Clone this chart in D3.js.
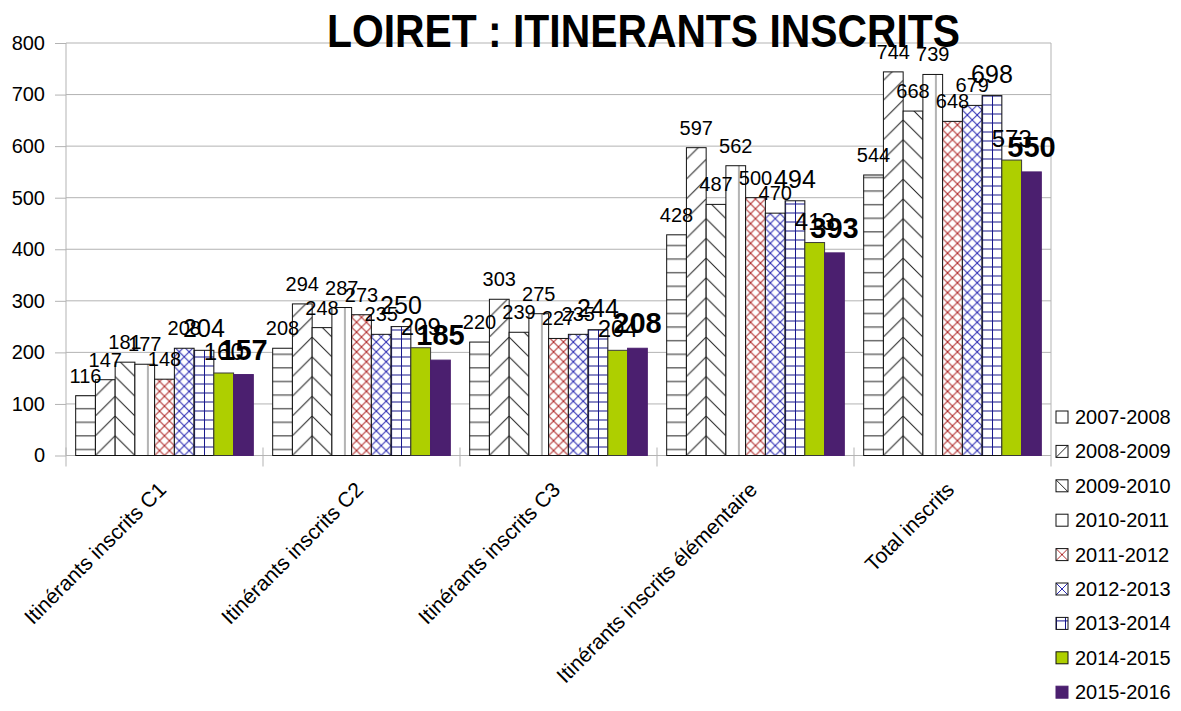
<!DOCTYPE html>
<html>
<head>
<meta charset="utf-8">
<script src="https://cdn.jsdelivr.net/npm/d3@7"></script>
<style>
  body { margin: 0; background: #fff; }
  text { font-family: "Liberation Sans", Arial, sans-serif; }
</style>
</head>
<body>
<div id="chart"></div>
<script>
// categories and yearly series
const categories = ["Itinérants inscrits C1", "Itinérants inscrits C2", "Itinérants inscrits C3", "Itinérants inscrits élémentaire", "Total inscrits"];
const years = ["2007-2008", "2008-2009", "2009-2010", "2010-2011", "2011-2012", "2012-2013", "2013-2014", "2014-2015", "2015-2016"];

const v2007 = [116, 208, 220, 428, 544];
const v2008 = [147, 294, 303, 597, 744];
const v2009 = [181, 248, 239, 487, 668];
const v2010 = [177, 287, 275, 562, 739];
const v2011 = [148, 273, 227, 500, 648];
const v2012 = [208, 235, 235, 470, 679];
const v2013 = [204, 250, 244, 494, 698];
const v2014 = [160, 209, 204, 413, 573];
const v2015 = [157, 185, 208, 393, 550];
const seriesValues = [v2007, v2008, v2009, v2010, v2011, v2012, v2013, v2014, v2015];

const yTicks = [0, 100, 200, 300, 400, 500, 600, 700, 800];
const titleText = "LOIRET : ITINERANTS INSCRITS";

// fill style per series (hatch kind + colour), label font
const seriesStyle = [
  { kind: "hlines", color: "#222", font: 20 },
  { kind: "slash", color: "#222", font: 20 },
  { kind: "backslash", color: "#222", font: 20 },
  { kind: "vline", color: "#666", font: 20 },
  { kind: "cross", color: "#b02a2a", font: 20 },
  { kind: "cross", color: "#2b2bb3", font: 20 },
  { kind: "grid", color: "#14148a", font: 25 },
  { kind: "solid", color: "#aecf00", font: 24 },
  { kind: "solid", color: "#4b1f6f", font: 29, bold: true }
];

const W = 1181, H = 711;
const plot = { left: 66, right: 1051, top: 43, bottom: 455.5 };

const svg = d3.select("#chart").append("svg")
  .attr("width", W).attr("height", H);
const defs = svg.append("defs");

const x0 = d3.scaleBand().domain(categories).range([plot.left, plot.right]).padding(0);
const x1 = d3.scaleBand().domain(years).range([0, x0.bandwidth()]).paddingInner(0).paddingOuter(0.49);
const y = d3.scaleLinear().domain([0, 800]).range([plot.bottom, plot.top]);
const bw = x1.bandwidth();

// builds a hatch pattern anchored at (px, py)
function addPattern(id, style, px, py, size, kind) {
  kind = kind || style.kind;
  const p = defs.append("pattern").attr("id", id)
    .attr("patternUnits", "userSpaceOnUse")
    .attr("x", px).attr("y", py);
  let w, h;
  const ln = (a, b, c, d) => p.append("line")
    .attr("x1", a).attr("y1", b).attr("x2", c).attr("y2", d)
    .attr("stroke", style.color).attr("stroke-width", 1);
  const bg = () => p.attr("width", w).attr("height", h)
    .append("rect").attr("width", w).attr("height", h).attr("fill", "#fff");
  if (kind === "hlines") {
    w = size; h = 13.6; bg();
    ln(0, 7.6, w, 7.6);
  } else if (kind === "slash") {
    w = size; h = size; bg();
    ln(0, h, w, 0);
  } else if (kind === "backslash") {
    w = size; h = size; bg();
    ln(0, 0, w, h);
  } else if (kind === "vline") {
    w = 400; h = 20; bg();
    ln(size * 0.66, 0, size * 0.66, h);
  } else if (kind === "cross") {
    w = size / 2; h = size / 2; bg();
    ln(0, 0, w, h);
    ln(0, h, w, 0);
  } else if (kind === "grid") {
    w = size / 2; h = 9; bg();
    ln(0.5, 0, 0.5, h);
    ln(0, 0.5, w, 0.5);
  } else {
    w = size; h = size; bg();
  }
  return "url(#" + id + ")";
}

// gridlines
svg.append("g").selectAll("line")
  .data(yTicks)
  .join("line")
  .attr("x1", plot.left).attr("x2", plot.right)
  .attr("y1", d => y(d)).attr("y2", d => y(d))
  .attr("stroke", "#b3b3b3").attr("stroke-width", 1);

// y axis
const yAxis = svg.append("g")
  .attr("transform", `translate(${plot.left},0)`)
  .call(d3.axisLeft(y).tickValues(yTicks).tickSize(11).tickPadding(10));
yAxis.select(".domain").remove();
yAxis.selectAll(".tick line").attr("stroke", "#b3b3b3");
yAxis.selectAll(".tick text").attr("font-size", 20).attr("fill", "#000")
  .attr("font-family", "Liberation Sans, Arial, sans-serif");

// frame lines
svg.append("line").attr("x1", plot.left).attr("x2", plot.left)
  .attr("y1", plot.top).attr("y2", plot.bottom).attr("stroke", "#b3b3b3");
svg.append("line").attr("x1", plot.right).attr("x2", plot.right)
  .attr("y1", plot.top).attr("y2", plot.bottom + 11).attr("stroke", "#b3b3b3");
svg.append("line").attr("x1", plot.left).attr("x2", plot.right)
  .attr("y1", plot.bottom).attr("y2", plot.bottom).attr("stroke", "#b3b3b3");

// category separator ticks
svg.append("g").selectAll("line")
  .data(categories)
  .join("line")
  .attr("x1", d => x0(d)).attr("x2", d => x0(d))
  .attr("y1", plot.bottom - 8).attr("y2", plot.bottom + 11)
  .attr("stroke", "#b3b3b3");

// bars
const barData = [];
categories.forEach((c, ci) => {
  years.forEach((yr, si) => {
    barData.push({ cat: c, ci: ci, year: yr, si: si, value: seriesValues[si][ci] });
  });
});

barData.forEach(d => {
  const style = seriesStyle[d.si];
  const bx = x0(d.cat) + x1(d.year);
  d.x = bx;
  d.fill = style.kind === "solid" ? style.color
    : addPattern(`p${d.si}_${d.ci}`, style, bx, y(0), bw);
});

svg.append("g").selectAll("rect")
  .data(barData)
  .join("rect")
  .attr("x", d => d.x)
  .attr("y", d => y(d.value))
  .attr("width", bw)
  .attr("height", d => y(0) - y(d.value))
  .attr("fill", d => d.fill)
  .attr("stroke", d => d.si === 8 ? "#4b1f6f" : (d.si === 7 ? "#3a3a3a" : "#111"))
  .attr("stroke-width", 1);

// value labels (bold series drawn last, on top)
const labelData = barData.slice().sort((a, b) => a.si - b.si);
svg.append("g").selectAll("text")
  .data(labelData)
  .join("text")
  .attr("x", d => d.x + bw / 2)
  .attr("y", d => y(d.value) - (seriesStyle[d.si].bold ? 15 : 13))
  .attr("text-anchor", "middle")
  .attr("font-size", d => seriesStyle[d.si].font)
  .attr("font-weight", d => seriesStyle[d.si].bold ? "bold" : "normal")
  .text(d => d.value);

// category labels
svg.append("g").selectAll("text")
  .data(categories)
  .join("text")
  .attr("transform", d => `translate(${x0(d) + x0.bandwidth() / 2 + 3},491) rotate(-45)`)
  .attr("text-anchor", "end")
  .attr("font-size", 21)
  .text(d => d);

// legend
const legend = svg.append("g");
const legendKind = ["plain", "slash", "backslash", "plain", "cross", "cross", "grid", "solid", "solid"];
years.forEach((yr, i) => {
  const cy = 417 + i * 34.4;
  const style = seriesStyle[i];
  const sx = 1056, sy = cy - 6;
  const k = legendKind[i];
  const fill = k === "solid" ? style.color
    : addPattern(`lg${i}`, style, sx, sy + 12, k === "cross" ? 24 : (k === "grid" ? 18 : 12), k);
  legend.append("rect")
    .attr("x", sx).attr("y", sy).attr("width", 12).attr("height", 12)
    .attr("fill", fill)
    .attr("stroke", i === 8 ? "#4b1f6f" : "#111").attr("stroke-width", 1);
  legend.append("text")
    .attr("x", 1075).attr("y", cy + 7)
    .attr("font-size", 20)
    .text(yr);
});

// title
svg.append("text")
  .attr("x", 327).attr("y", 47)
  .attr("font-size", 46)
  .attr("font-weight", "bold")
  .attr("textLength", 633)
  .attr("lengthAdjust", "spacingAndGlyphs")
  .text(titleText);
</script>
</body>
</html>
